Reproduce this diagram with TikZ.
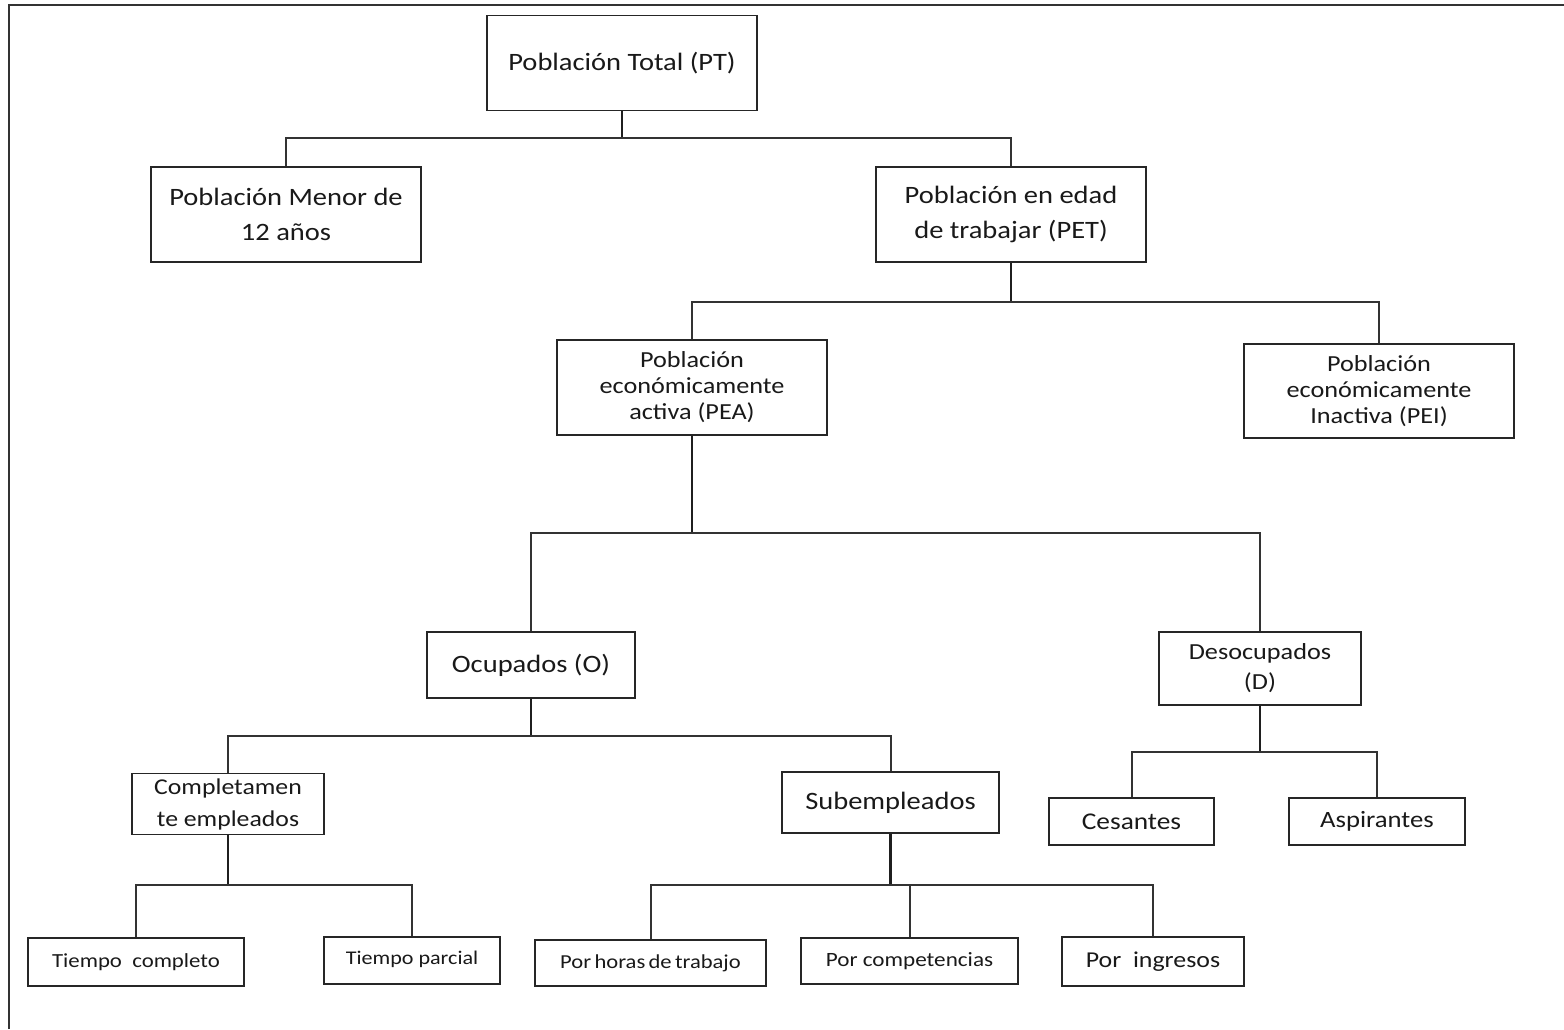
\documentclass[tikz,border=0pt]{standalone}
\usepackage{fontspec}
\setmainfont{Carlito}[FakeStretch=1.14]
\begin{document}
\begin{tikzpicture}[x=1pt,y=-1pt,
  bx/.style={draw=black!85,line width=1.8pt,inner sep=0pt,align=center,text=black!90},
  conn/.style={draw=black!80,line width=2pt},
  stem/.style={draw=black!88,line width=2.6pt},
  fA/.style={font=\fontsize{25}{35}\selectfont},
  fB/.style={font=\fontsize{23}{26}\selectfont},
  fD/.style={font=\fontsize{20}{24}\selectfont}]
\useasboundingbox (0,0) rectangle (1564,1029);
\draw[draw=black!80,line width=1.8pt] (9,1029) -- (9,5) -- (1564,5);
% level 0
\node[bx,fA,minimum width=270pt,minimum height=95pt] (pt) at (622,63) {Población Total (PT)};
% level 1
\node[bx,fA,minimum width=270pt,minimum height=95pt] (menor) at (286,214.5) {Población Menor de\\12 años};
\node[bx,fA,minimum width=270pt,minimum height=95pt] (pet) at (1011,214.5) {Población en edad\\de trabajar (PET)};
% level 2
\node[bx,fB,minimum width=270pt,minimum height=95pt] (pea) at (692,387.5) {Población\\económicamente\\activa (PEA)};
\node[bx,fB,minimum width=270pt,minimum height=94pt] (pei) at (1379,391) {Población\\económicamente\\Inactiva (PEI)};
% level 3
\node[bx,fA,minimum width=208pt,minimum height=66pt] (ocu) at (531,665) {Ocupados (O)};
\node[bx,minimum width=202pt,minimum height=73pt,font=\fontsize{23}{30}\selectfont] (des) at (1260,668.5) {Desocupados\\(D)};
% level 4
\node[bx,minimum width=192pt,minimum height=61pt,font=\fontsize{22.6}{32}\selectfont] (comp) at (228,804) {Completamen\\te empleados};
\node[bx,fA,minimum width=217pt,minimum height=61pt] (sub) at (890.5,802.5) {Subempleados};
\node[bx,minimum width=165pt,minimum height=47pt,font=\fontsize{24}{30}\selectfont] (ces) at (1131.5,821.5) {Cesantes};
\node[bx,minimum width=176pt,minimum height=47pt,font=\fontsize{23.4}{30}\selectfont] (asp) at (1377,821.5) {Aspirantes};
% level 5
\node[bx,fD,minimum width=216pt,minimum height=48pt] (tc) at (136,962) {Tiempo\ \ completo};
\node[bx,minimum width=176pt,minimum height=47pt,font=\fontsize{19.4}{22}\selectfont] (tp) at (412,960.5) {Tiempo parcial\strut\vphantom{y}};
\node[bx,minimum width=231pt,minimum height=46pt,font=\fontsize{19.8}{22}\selectfont] (ph) at (650.5,963) {Por\,horas\,de\,trabajo};
\node[bx,minimum width=217pt,minimum height=46pt,font=\fontsize{20.3}{24}\selectfont] (pc) at (909.5,961) {Por competencias};
\node[bx,minimum width=182pt,minimum height=49pt,font=\fontsize{22.7}{28}\selectfont] (pi) at (1153,961.5) {Por\ \ ingresos};
% buses
\coordinate (b1) at (0,138);
\coordinate (b2) at (0,302);
\coordinate (b3) at (0,533);
\coordinate (b4) at (0,736);
\coordinate (b5) at (0,752);
\coordinate (b6) at (0,885);
\draw[stem] (pt.south) -- (pt.south |- b1);
\draw[conn] (menor.north) |- (pet.north |- b1) -- (pet.north);
\draw[stem] (pet.south) -- (pet.south |- b2);
\draw[conn] (pea.north) |- (pei.north |- b2) -- (pei.north);
\draw[stem] (pea.south) -- (pea.south |- b3);
\draw[conn] (ocu.north) |- (des.north |- b3) -- (des.north);
\draw[stem] (ocu.south) -- (ocu.south |- b4);
\draw[conn] (comp.north) |- (sub.north |- b4) -- (sub.north);
\draw[stem] (des.south) -- (des.south |- b5);
\draw[conn] (ces.north) |- (asp.north |- b5) -- (asp.north);
\draw[stem] (comp.south) -- (comp.south |- b6);
\draw[conn] (tc.north) |- (tp.north |- b6) -- (tp.north);
\draw[stem] (sub.south) -- (sub.south |- b6);
\draw[conn] (ph.north) |- (pi.north |- b6) -- (pi.north);
\draw[conn] (pc.north) -- (pc.north |- b6);
\end{tikzpicture}
\end{document}
